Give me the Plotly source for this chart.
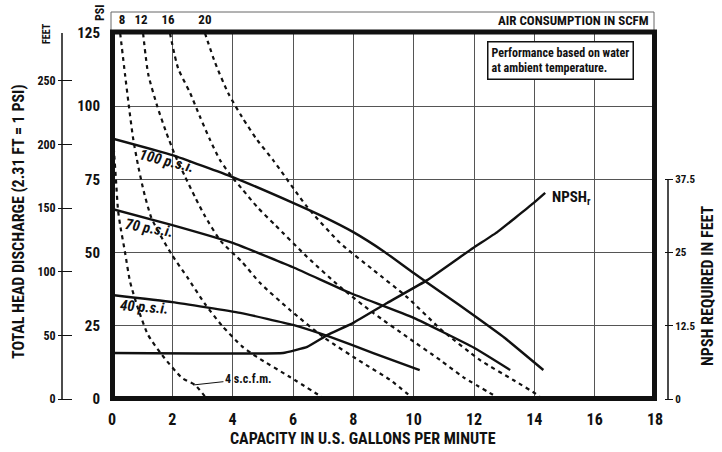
import plotly.graph_objects as go

# ---------------- data ----------------
capacity_ticks = [0, 2, 4, 6, 8, 10, 12, 14, 16, 18]
head_ticks = [0, 25, 50, 75, 100, 125]
feet_ticks = [0, 50, 100, 150, 200, 250]
npsh_ticks = [0, 12.5, 25, 37.5]
npsh_ticktext = ["0", "12.5", "25", "37.5"]
air_tick_pos = [0.33, 0.96, 1.86, 3.08]
air_tick_text = ["8", "12", "16", "20"]

# air consumption curves (scfm), capacity gpm vs head
scfm4_x = [0.03, 0.07, 0.13, 0.2, 0.27, 0.43, 0.6, 0.86, 1.19, 1.66, 2.32, 2.75, 3.15]
scfm4_y = [88.5, 84, 75, 64.5, 59.4, 50.2, 40, 31, 22, 15, 7.2, 4.8, 0]
scfm8_x = [0.27, 0.43, 0.56, 0.7, 0.86, 1.05, 1.3, 1.6, 2.0, 2.5, 3.08, 3.65, 4.31, 4.81, 5.9, 7.06]
scfm8_y = [125, 111, 100, 89, 80, 71, 62, 56, 49, 41.5, 32.5, 25, 18, 14.3, 7.5, 0]
scfm12_x = [1.03, 1.2, 1.5, 1.8, 2.1, 2.42, 2.75, 3.08, 3.6, 4.31, 4.91, 5.9, 7.0, 8.32, 9.22, 10.0]
scfm12_y = [125, 111, 100, 91, 83, 76, 69, 62.5, 54, 46.8, 39.6, 30.4, 21.2, 12.3, 6.5, 0]
scfm16_x = [1.92, 2.19, 2.59, 2.92, 3.25, 3.58, 3.98, 4.34, 4.81, 5.4, 6.47, 7.56, 8.66, 9.78, 10.88, 11.64, 12.87]
scfm16_y = [125, 113, 104.5, 96.3, 88.5, 81.6, 75.8, 71.4, 65.6, 59.5, 48.5, 38.3, 29.4, 21.2, 13.3, 7.5, 0]
scfm20_x = [3.08, 3.42, 3.85, 4.31, 4.81, 5.34, 6.47, 7.56, 8.66, 9.78, 10.88, 12.2, 13.3, 14.1, 14.25]
scfm20_y = [125, 114.8, 104.5, 96.3, 88.5, 81.6, 65.6, 53.3, 44.1, 34.8, 24, 13.3, 6.5, 1.4, 0]

# pump performance at air inlet pressures
psi100_x = [0, 2, 4, 6, 7, 8, 9, 10, 11, 12, 13, 14.3]
psi100_y = [89, 83.3, 75.8, 67, 62.3, 57, 50.5, 43, 35.8, 28.5, 21, 9.9]
psi70_x = [0, 2, 4, 6, 7.9, 10, 12, 13.2]
psi70_y = [64.9, 59.4, 53.3, 45, 36.2, 27.7, 17.5, 9.9]
psi40_x = [0, 2, 4.25, 6, 7.23, 8.66, 10.2]
psi40_y = [35.5, 33.1, 29.4, 25.3, 21.2, 15.7, 9.9]

# NPSH required (feet, right axis)
npsh_x = [0, 5.67, 6.47, 7.13, 8.0, 9.12, 10.45, 11.97, 12.77, 13.96, 14.36]
npsh_y = [7.85, 7.85, 8.9, 10.9, 13, 16.4, 20.3, 25.8, 28.5, 33.4, 35.2]

# ---------------- layout helpers ----------------
W, H = 722, 452
ML, MR, MT, MB = 40, 20, 10, 20
PW, PH = W - ML - MR, H - MT - MB


def px_x(p):
    return (p - ML) / PW


def px_y(p):
    return (H - MB - p) / PH


FONT = "Liberation Sans Narrow, Arial Narrow, Roboto Condensed, Liberation Sans, sans-serif"
BLACK = "#111111"

fig = go.Figure()

dash = "4px,4px"
for xs, ys in [(scfm4_x, scfm4_y), (scfm8_x, scfm8_y), (scfm12_x, scfm12_y),
               (scfm16_x, scfm16_y), (scfm20_x, scfm20_y)]:
    fig.add_trace(go.Scatter(x=xs, y=ys, mode="lines",
                             line=dict(color=BLACK, width=2.2, dash=dash, shape="spline", smoothing=0.6),
                             hoverinfo="skip", showlegend=False))

for xs, ys in [(psi100_x, psi100_y), (psi70_x, psi70_y), (psi40_x, psi40_y)]:
    fig.add_trace(go.Scatter(x=xs, y=ys, mode="lines",
                             line=dict(color=BLACK, width=2.4, shape="spline", smoothing=0.4),
                             hoverinfo="skip", showlegend=False))

fig.add_trace(go.Scatter(x=npsh_x, y=npsh_y, mode="lines", yaxis="y2",
                         line=dict(color=BLACK, width=2.4, shape="spline", smoothing=0.25),
                         hoverinfo="skip", showlegend=False))

xdom = [px_x(112), px_x(655)]
ydom = [px_y(399), px_y(33)]

fig.update_layout(
    template="none",
    width=W, height=H,
    margin=dict(l=ML, r=MR, t=MT, b=MB, autoexpand=False),
    paper_bgcolor="white", plot_bgcolor="white",
    font=dict(family=FONT, color=BLACK),
    xaxis=dict(domain=xdom, range=[0, 18], tickvals=capacity_ticks, automargin=False,
               showgrid=True, gridcolor="#555555", gridwidth=1, zeroline=False,
               ticks="outside", ticklen=6, tickcolor="rgba(0,0,0,0)",
               tickfont=dict(size=16, family=FONT, weight="bold"), showline=False),
    xaxis2=dict(overlaying="x", anchor="free", position=px_y(32), side="top",
                range=[0, 18], tickvals=air_tick_pos, ticktext=air_tick_text, automargin=False,
                showgrid=False, zeroline=False, ticks="outside", ticklen=3,
                tickcolor="rgba(0,0,0,0)", tickfont=dict(size=13, family=FONT, weight="bold"),
                showline=False),
    yaxis=dict(domain=ydom, range=[0, 125], tickvals=head_ticks, automargin=False,
               showgrid=True, gridcolor="#555555", gridwidth=1, zeroline=False,
               ticks="outside", ticklen=8, tickcolor="rgba(0,0,0,0)",
               tickfont=dict(size=15, family=FONT, weight="bold"), showline=False),
    yaxis2=dict(overlaying="y", anchor="free", position=px_x(664), side="right",
                range=[0, 62.5], tickvals=npsh_ticks, ticktext=npsh_ticktext, automargin=False,
                showgrid=False, zeroline=False, ticks="outside", ticklen=8,
                tickcolor=BLACK, tickwidth=1,
                tickfont=dict(size=11, family=FONT, weight="bold"), showline=False),
    yaxis3=dict(overlaying="y", anchor="free", position=px_x(72), side="left",
                range=[0, 287.7], tickvals=feet_ticks, automargin=False,
                showgrid=False, zeroline=False, ticks="outside", ticklen=14,
                tickcolor=BLACK, tickwidth=1.2,
                tickfont=dict(size=12, family=FONT, weight="bold"), showline=False),
)

# dummy traces so the extra axes are drawn
fig.add_trace(go.Scatter(x=[None], y=[None], yaxis="y3", showlegend=False, hoverinfo="skip"))
fig.add_trace(go.Scatter(x=[None], y=[None], xaxis="x2", showlegend=False, hoverinfo="skip"))

shapes = [
    # top air-consumption box
    dict(type="rect", xref="paper", yref="paper", x0=px_x(111), x1=px_x(654),
         y0=px_y(32), y1=px_y(12), line=dict(color="#666666", width=1)),
    # outer feet axis line
    dict(type="line", xref="paper", yref="paper", x0=px_x(62), x1=px_x(62),
         y0=px_y(399), y1=px_y(33), line=dict(color=BLACK, width=1.5)),
    # NPSH axis line
    dict(type="line", xref="paper", yref="y2", x0=px_x(668), x1=px_x(668),
         y0=0, y1=37.5, line=dict(color=BLACK, width=1.5)),
    # thick frame
    dict(type="rect", xref="paper", yref="paper", x0=px_x(112.5), x1=px_x(654.5),
         y0=px_y(398.5), y1=px_y(32), line=dict(color=BLACK, width=5)),
]
fig.update_layout(shapes=shapes)

ann = []


def A(text, x, y, size, angle=0, xanchor="center", yanchor="middle", **kw):
    ann.append(dict(text=text, x=x, y=y, xref="paper", yref="paper", showarrow=False,
                    textangle=angle, xanchor=xanchor, yanchor=yanchor,
                    font=dict(size=size, family=FONT, color=BLACK, weight="bold"), **kw))


A("TOTAL HEAD DISCHARGE (2.31 FT = 1 PSI)", px_x(18), px_y(222), 16, angle=-90)
A("FEET", px_x(46), px_y(34), 10, angle=-90)
A("PSI", px_x(100), px_y(13), 12, angle=-90)
A("AIR CONSUMPTION IN SCFM", px_x(651), px_y(21), 13, xanchor="right")
A("CAPACITY IN U.S. GALLONS PER MINUTE", px_x(363), px_y(439), 16)
A("NPSH REQUIRED IN FEET", px_x(707), px_y(286), 16, angle=-90)
A("<i>100 p.s.i.</i>", px_x(167), px_y(161), 15, angle=14)
A("<i>70 p.s.i.</i>", px_x(149), px_y(228), 15, angle=10)
A("<i>40 p.s.i.</i>", px_x(144), px_y(307), 15, angle=4)
A("NPSH<sub>r</sub>", px_x(571), px_y(198), 15)

# performance note box
ann.append(dict(text="Performance based on water<br>at ambient temperature.",
                x=px_x(560), y=px_y(60), xref="paper", yref="paper", showarrow=False,
                align="left", xanchor="center", yanchor="middle",
                bgcolor="white", bordercolor=BLACK, borderwidth=1.5, borderpad=3,
                font=dict(size=12, family=FONT, color=BLACK, weight="bold")))

# 4 scfm label with leader
ann.append(dict(text="4 s.c.f.m.", x=2.7, y=4.8, xref="x", yref="y", showarrow=True,
                arrowhead=0, arrowwidth=1, arrowcolor=BLACK, ax=55, ay=-6,
                font=dict(size=12, family=FONT, color=BLACK, weight="bold")))

fig.update_layout(annotations=ann)

fig.write_html("out.html", config={"displayModeBar": False},
               post_script="document.body.style.margin='0';document.body.style.padding='0';")
